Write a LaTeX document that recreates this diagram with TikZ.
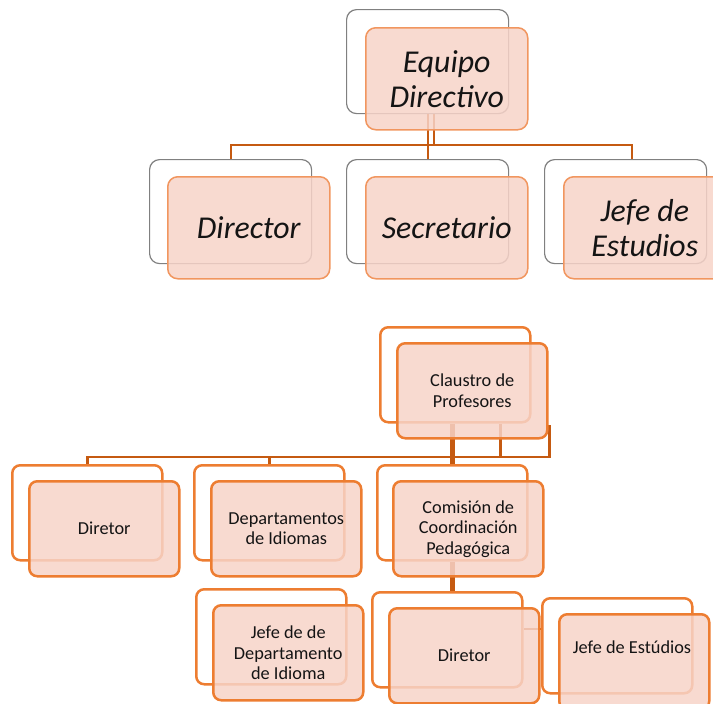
\documentclass[tikz,border=0pt]{standalone}
\usepackage{fontspec}
\setmainfont{Carlito}
\usetikzlibrary{calc}

\definecolor{fillpink}{RGB}{247,211,200}
\definecolor{edgeorange}{RGB}{237,125,49}
\definecolor{softorange}{RGB}{241,150,95}
\definecolor{linkbrown}{RGB}{197,90,17}
\definecolor{shadowgray}{RGB}{128,128,128}
\definecolor{ink}{RGB}{20,20,20}

\tikzset{
  boxbase/.style={rectangle, inner sep=0pt, anchor=north west, align=center, text=ink},
  bigback/.style={boxbase, draw=shadowgray, line width=1.2pt, rounded corners=10pt,
    minimum width=162pt, minimum height=104pt},
  bigfront/.style={boxbase, draw=softorange, line width=1.5pt, fill=fillpink,
    fill opacity=0.85, text opacity=1, rounded corners=10pt,
    minimum width=162pt, minimum height=102pt,
    font=\fontsize{31.8}{35}\selectfont\itshape},
  smallback/.style={boxbase, draw=edgeorange, line width=2.5pt, rounded corners=8pt,
    minimum width=150pt, minimum height=95pt},
  smallfront/.style={boxbase, draw=edgeorange, line width=2.5pt, fill=fillpink,
    fill opacity=0.85, text opacity=1, rounded corners=8pt,
    minimum width=150pt, minimum height=95pt,
    font=\fontsize{18.3}{20.5}\selectfont},
  smalltext/.style={inner sep=0pt, align=center, text=ink, font=\fontsize{18.3}{20.5}\selectfont},
  linkA/.style={draw=linkbrown, line width=2pt},
  linkB/.style={draw=linkbrown, line width=2.5pt},
  linkThick/.style={draw=linkbrown, line width=5pt},
}

\begin{document}
\begin{tikzpicture}[x=1pt, y=-1pt]
\useasboundingbox (0,0) rectangle (713,704);
\clip (0,0) rectangle (713,704);

% ---------- Equipo Directivo chart ----------
% back outlines
\node[bigback] (eqB)  at (346,9)   {};
\node[bigback] (dirB) at (149,159) {};
\node[bigback] (secB) at (346,159) {};
\node[bigback] (jefB) at (544,159) {};

% connectors
\coordinate (busA) at (0,145);
\coordinate (eqR)  at ($(eqB.south)+(6,0)$);
\coordinate (jefT) at ($(jefB.north)+(6,0)$);
\draw[linkA] (eqB.south) -- (secB.north);
\draw[linkA] (eqR) -- (eqR |- busA);
\draw[linkA] (dirB.north) |- (jefT |- busA) -- (jefT);

% front boxes
\node[bigfront] (eqF)  at (365,27)  {Equipo\\Directivo};
\node[bigfront] (dirF) at (167,176) {Director};
\node[bigfront] (secF) at (365,176) {Secretario};
\node[bigfront] (jefF) at (563,176) {Jefe de\\Estudios};

% ---------- Claustro de Profesores chart ----------
% back outlines
\node[smallback] (claB)  at (379,326) {};
\node[smallback] (dirB2) at (11,464)  {};
\node[smallback] (depB)  at (193,464) {};
\node[smallback] (comB)  at (376,464) {};
\node[smallback] (jddB)  at (195,588) {};
\node[smallback] (dtB)   at (371,591) {};
\node[smallback] (jeB)   at (541,597) {};

% connectors
\coordinate (busB) at (0,457);
\coordinate (claR) at ($(claB.south)+(94,1)$);
\coordinate (claM) at ($(claB.south)+(45,0)$);
\coordinate (dtR)  at ($(dtB.east)+(0,-11)$);
\draw[linkB] (dirB2.north) |- (claR |- busB) -- (claR);
\draw[linkB] (depB.north) -- (depB.north |- busB);
\draw[linkB] (claM) -- (claM |- busB);
\draw[linkThick] (comB.north) -- (comB.north |- claB.south);
\draw[linkThick] (comB.south) -- (comB.south |- dtB.north);
\draw[linkB] (dtR) -- (dtR -| jeB.west);

% front boxes
\node[smallfront] (claF)  at (396,342) {Claustro de\\Profesores};
\node[smallfront] (dirF2) at (28,480)  {Diretor};
\node[smallfront] (depF)  at (210,480) {Departamentos\\de Idiomas};
\node[smallfront] (comF)  at (392,480) {Comisión de\\Coordinación\\Pedagógica};
\node[smallfront] (jddF)  at (212,604) {Jefe de de\\Departamento\\de Idioma};
\node[smallfront] (dtF)   at (388,607) {Diretor};
\node[smallfront] (jeF)   at (558,613) {};
\node[smalltext]  (jeTxt) at (632,647) {Jefe de Estúdios};
\end{tikzpicture}
\end{document}
